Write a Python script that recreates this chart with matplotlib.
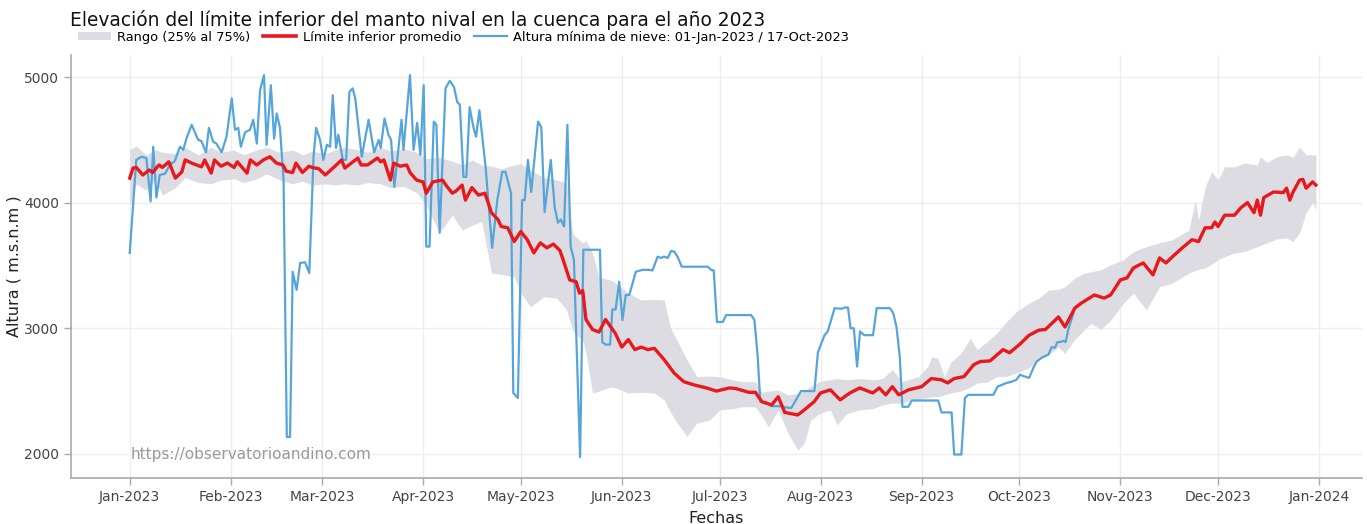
import pandas as pd
import numpy as np
import matplotlib
matplotlib.use('Agg')
import matplotlib.pyplot as plt
import matplotlib.dates as mdates
from matplotlib.patches import Patch
from matplotlib.lines import Line2D

inicio = pd.Timestamp('2023-01-01')

# limite inferior promedio (dia del año, altura)
red_dias = [0, 1, 2, 4, 6, 7, 9, 10, 12, 14, 16, 17, 19, 22, 23, 25, 26, 28, 30, 32, 33, 36, 37, 39, 41, 43, 45, 47, 48, 50,
	51, 53, 55, 56, 58, 60, 63, 65, 66, 68, 70, 71, 73, 76, 77, 78, 80, 81, 83, 85, 86, 88, 90, 91, 93, 96, 97, 99, 100, 102,
	103, 105, 107, 109, 111, 113, 114, 116, 118, 120, 122, 124, 126, 128, 130, 132, 133, 135, 137, 138, 139, 140, 142, 144, 146, 149, 151, 153, 155, 157,
	159, 161, 164, 167, 170, 173, 177, 180, 184, 186, 190, 192, 194, 197, 199, 201, 205, 207, 210, 212, 215, 218, 221, 224, 228, 230, 232, 234, 236, 239,
	243, 246, 249, 251, 253, 256, 259, 261, 264, 268, 270, 273, 276, 279, 281, 284, 285, 287, 290, 292, 296, 299, 301, 304, 306, 308, 311, 314, 316, 318,
	320, 323, 326, 328, 330, 332, 333, 334, 336, 339, 341, 343, 345, 346, 347, 348, 351, 354, 355, 356, 357, 359, 360, 361, 363, 364]
red_alt = [4195, 4275, 4280, 4220, 4260, 4240, 4300, 4280, 4325, 4195, 4245, 4340, 4315, 4285, 4340, 4235, 4340, 4290, 4315, 4280, 4325, 4235, 4340, 4300, 4340, 4365, 4315, 4300, 4250, 4240,
	4315, 4240, 4290, 4280, 4270, 4220, 4290, 4340, 4275, 4315, 4355, 4300, 4300, 4355, 4325, 4340, 4180, 4315, 4290, 4300, 4240, 4180, 4165, 4075, 4165, 4180, 4140, 4075, 4090, 4140,
	4020, 4120, 4060, 4075, 3920, 3865, 3810, 3800, 3690, 3770, 3705, 3600, 3680, 3640, 3670, 3620, 3545, 3385, 3370, 3280, 3300, 3070, 2990, 2970, 3070, 2960, 2850, 2910, 2830, 2850,
	2830, 2840, 2750, 2645, 2575, 2550, 2525, 2500, 2525, 2520, 2490, 2490, 2415, 2390, 2455, 2330, 2310, 2350, 2415, 2485, 2510, 2430, 2485, 2525, 2485, 2525, 2470, 2535, 2470, 2510,
	2535, 2600, 2590, 2565, 2600, 2615, 2710, 2735, 2740, 2830, 2805, 2870, 2945, 2985, 2990, 3065, 3090, 3010, 3160, 3200, 3265, 3240, 3265, 3385, 3400, 3480, 3520, 3425, 3560, 3520,
	3570, 3640, 3705, 3690, 3800, 3800, 3846, 3810, 3900, 3900, 3960, 4000, 3920, 4020, 3900, 4040, 4085, 4080, 4115, 4020, 4085, 4180, 4185, 4115, 4165, 4140]

# rango 25% - 75%
band_dias = [0, 2, 5, 8, 10, 14, 17, 21, 25, 28, 32, 35, 39, 42, 46, 50, 53, 56, 60, 63, 66, 70, 73, 77, 80, 84, 88, 91, 95, 99,
	102, 105, 108, 111, 114, 118, 120, 123, 127, 131, 134, 136, 139, 140, 142, 144, 148, 153, 157, 161, 164, 166, 168, 171, 174, 178, 181, 185, 188, 192,
	194, 196, 199, 202, 205, 207, 209, 212, 215, 217, 220, 224, 228, 231, 234, 237, 240, 242, 245, 246, 248, 250, 252, 255, 258, 260, 263, 266, 269, 272,
	276, 279, 282, 285, 287, 290, 293, 295, 298, 301, 305, 308, 312, 316, 320, 325, 327, 328, 330, 332, 334, 336, 339, 342, 346, 347, 349, 352, 355, 357,
	359, 361, 363, 364]
band_sup = [4420, 4450, 4380, 4420, 4400, 4390, 4440, 4380, 4440, 4400, 4420, 4380, 4420, 4440, 4400, 4420, 4380, 4410, 4390, 4420, 4440, 4420, 4400, 4440, 4410, 4430, 4400, 4350, 4360, 4330,
	4300, 4340, 4300, 4290, 4270, 4300, 4310, 4260, 4200, 4180, 4160, 3750, 3680, 3700, 3600, 3410, 3380, 3280, 3225, 3230, 3225, 3000, 2900, 2750, 2615, 2620, 2615, 2590, 2575, 2575,
	2490, 2500, 2510, 2470, 2480, 2500, 2540, 2580, 2590, 2600, 2590, 2600, 2590, 2600, 2670, 2575, 2600, 2615, 2700, 2775, 2760, 2615, 2730, 2800, 2920, 2830, 2890, 2960, 3050, 3130,
	3200, 3240, 3305, 3310, 3330, 3400, 3440, 3450, 3465, 3505, 3545, 3610, 3650, 3680, 3705, 3780, 4020, 3860, 4125, 4245, 4180, 4285, 4285, 4315, 4300, 4365, 4320, 4365, 4380, 4360,
	4445, 4380, 4380, 4380]
band_inf = [3970, 4150, 4100, 4180, 4060, 4120, 4200, 4160, 4150, 4180, 4190, 4160, 4190, 4230, 4180, 4150, 4170, 4140, 4150, 4140, 4150, 4140, 4160, 4150, 4120, 4130, 4080, 3980, 3760, 3900,
	3780, 3820, 3850, 3440, 3430, 3410, 3280, 3170, 3250, 3240, 3150, 2980, 2900, 2805, 2485, 2500, 2535, 2485, 2490, 2485, 2430, 2330, 2245, 2140, 2245, 2270, 2350, 2360, 2375, 2375,
	2300, 2215, 2350, 2165, 2030, 2085, 2270, 2325, 2350, 2230, 2320, 2350, 2360, 2390, 2405, 2405, 2430, 2430, 2450, 2455, 2455, 2470, 2485, 2500, 2530, 2565, 2570, 2615, 2615, 2645,
	2685, 2750, 2790, 2850, 2800, 2910, 2990, 3040, 2990, 3065, 3200, 3280, 3145, 3330, 3360, 3440, 3460, 3470, 3480, 3510, 3545, 3570, 3600, 3610, 3650, 3660, 3680, 3710, 3720, 3690,
	3760, 3920, 4000, 3945]

# altura minima de nieve 01-Jan-2023 / 17-Oct-2023
azul_dias = [0, 2, 3.6, 5.1, 6.4, 7.2, 8.2, 9.2, 10.8, 12.3, 13.8, 15.4, 16.4, 17.4, 19, 21, 22, 23.4, 24.3, 25.6,
	26.6, 28.2, 29.7, 31.3, 32.3, 33.3, 34.1, 35.4, 36.9, 37.9, 39, 40, 41.2, 42, 43.3, 44.3, 45.1, 46.1, 47.2, 48.2,
	49.2, 50, 51.2, 52.3, 53.8, 55.1, 56.4, 57.2, 58.4, 59.4, 60.5, 61.5, 62.3, 63.3, 64, 65.4, 66.4, 67.4, 68.4, 69.2,
	71.2, 73.3, 75, 76.4, 77, 78.2, 79.4, 80.2, 81.2, 83.4, 84, 86, 87.1, 88.2, 89.2, 90.2, 91, 92, 93.3, 94.1,
	95.1, 96.9, 98.2, 99.5, 100.5, 101.3, 102.4, 103.3, 104.3, 105.5, 106.3, 107.3, 109.2, 111.2, 112.8, 114.3, 115.3, 117, 117.7, 119.1,
	120.4, 121.2, 122.2, 123.2, 125.3, 126.3, 127.3, 129.2, 130.4, 131.4, 132.3, 133.3, 134.3, 135.3, 136.3, 138.2, 139.2, 144.3, 145, 146,
	147.4, 148.1, 149.1, 150.2, 151.2, 152.2, 153.3, 155.3, 157.4, 159.4, 160.4, 162, 163, 164, 165.1, 166.1, 167.1, 168.1, 169.4, 177.4,
	178.4, 179.2, 180.2, 182, 183, 190.7, 191.7, 192.7, 193.5, 195.3, 196.8, 199.4, 201.4, 203, 206, 208.1, 210.1, 211.2, 213.2, 214.2,
	216.3, 218.3, 219.5, 220.4, 221.2, 222.2, 223.2, 224.1, 225.4, 228.1, 229.2, 233.3, 234.3, 235.3, 236.3, 237.1, 238.9, 240, 248.1, 249.1,
	252.2, 253, 255.2, 256.3, 257.3, 265, 266.3, 268.6, 270.6, 272.1, 273.2, 274.2, 276, 277.3, 278.3, 279.8, 281.9, 282.9, 283.9, 284.7,
	285.5, 286.5, 287.2, 288, 289.6]
azul_alt = [3600, 4340, 4365, 4355, 4010, 4445, 4040, 4220, 4230, 4300, 4330, 4445, 4420, 4510, 4620, 4500, 4490, 4400, 4595, 4485,
	4470, 4400, 4525, 4830, 4580, 4595, 4445, 4560, 4580, 4660, 4470, 4895, 5015, 4460, 4935, 4510, 4710, 4595, 4180, 2135,
	2135, 3450, 3305, 3520, 3525, 3440, 4365, 4595, 4500, 4340, 4460, 4445, 4855, 4435, 4540, 4340, 4340, 4880, 4910, 4830,
	4365, 4660, 4400, 4500, 4435, 4670, 4540, 4500, 4125, 4660, 4420, 5015, 4420, 4635, 4380, 4935, 3650, 3650, 4645, 4620,
	3760, 4910, 4970, 4920, 4800, 4780, 4205, 4205, 4760, 4595, 4525, 4735, 4285, 3640, 4020, 4245, 4245, 4075, 2485, 2445,
	4020, 4020, 4340, 4085, 4645, 4600, 3925, 4340, 3965, 3840, 3865, 3810, 4620, 3650, 3545, 1975, 3625, 3625, 2890, 2870,
	2870, 3150, 3150, 3370, 3065, 3265, 3265, 3450, 3465, 3465, 3460, 3570, 3560, 3570, 3560, 3615, 3610, 3570, 3490, 3490,
	3465, 3460, 3050, 3050, 3105, 3105, 3065, 2775, 2415, 2410, 2380, 2380, 2370, 2365, 2500, 2500, 2500, 2810, 2945, 2975,
	3160, 3155, 3165, 3165, 3000, 3000, 2695, 2975, 2945, 2945, 3160, 3160, 3120, 3010, 2775, 2375, 2375, 2425, 2425, 2330,
	2330, 1995, 1995, 2445, 2470, 2470, 2535, 2560, 2575, 2590, 2630, 2620, 2605, 2685, 2735, 2765, 2790, 2850, 2845, 2890,
	2890, 2900, 2890, 2990, 3120]

fechas_red = inicio + pd.to_timedelta(red_dias, unit='D')
fechas_band = inicio + pd.to_timedelta(band_dias, unit='D')
fechas_azul = inicio + pd.to_timedelta(azul_dias, unit='D')

gris_band = '#dcdce2'
rojo = '#e8181c'
azul = '#55a5da'

fig = plt.figure(figsize=(13.67, 5.24), dpi=100)
ax = fig.add_axes([0.052, 0.088, 0.944, 0.807])

ax.fill_between(fechas_band, band_inf, band_sup, color=gris_band, linewidth=0, zorder=1)
ax.plot(fechas_azul, azul_alt, color=azul, linewidth=1.6, zorder=2)
ax.plot(fechas_red, red_alt, color=rojo, linewidth=2.4, zorder=3)

ax.set_xlim(pd.Timestamp('2022-12-14'), pd.Timestamp('2024-01-14'))
ax.set_ylim(1809, 5175)
ax.set_yticks([2000, 3000, 4000, 5000])
ax.xaxis.set_major_locator(mdates.MonthLocator())
ax.xaxis.set_major_formatter(mdates.DateFormatter('%b-%Y'))

ax.grid(True, color='#eeeeee', linewidth=1)
ax.set_axisbelow(True)
for s in ['top', 'right']:
	ax.spines[s].set_visible(False)
for s in ['left', 'bottom']:
	ax.spines[s].set_color('#aaaaaa')
	ax.spines[s].set_linewidth(1.2)
ax.tick_params(axis='both', colors='#aaaaaa', labelcolor='#444444', labelsize=10, length=5, width=1)

ax.set_xlabel('Fechas', fontsize=11.5, color='#222222', labelpad=5)
ax.set_ylabel('Altura ( m.s.n.m )', fontsize=11.5, color='#222222', labelpad=2)

ax.text(0.046, 0.045, 'https://observatorioandino.com', transform=ax.transAxes,
	fontsize=11, color='#999999', zorder=4)

fig.text(70 / 1367, 1 - 20 / 524, 'Elevación del límite inferior del manto nival en la cuenca para el año 2023',
	fontsize=13.4, color='#111111', va='center', ha='left')

handles = [Patch(facecolor=gris_band, edgecolor='none'),
	Line2D([0], [0], color=rojo, linewidth=2.6),
	Line2D([0], [0], color=azul, linewidth=1.6)]
labels = ['Rango (25% al 75%)', 'Límite inferior promedio', 'Altura mínima de nieve: 01-Jan-2023 / 17-Oct-2023']
fig.legend(handles, labels, loc='center left', bbox_to_anchor=(78 / 1367, 1 - 37 / 524), ncol=3,
	frameon=False, fontsize=9.4, handlelength=2.5, handleheight=0.6, handletextpad=0.5,
	columnspacing=1.0, borderpad=0, borderaxespad=0)

plt.savefig('out.png', dpi=100)
